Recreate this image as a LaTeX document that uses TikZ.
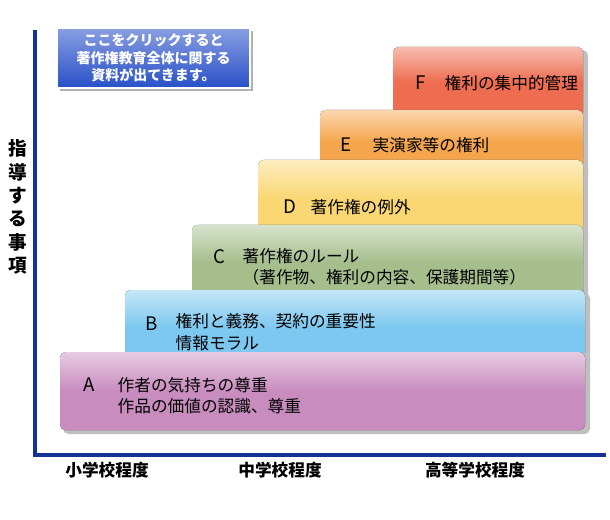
\documentclass[tikz,border=0pt]{standalone}
\usepackage{fontspec}
\setmainfont{Noto Sans CJK JP}
\usetikzlibrary{positioning}

\definecolor{axisblue}{RGB}{20,50,150}
\definecolor{barA}{RGB}{200,140,190}
\definecolor{barB}{RGB}{125,200,240}
\definecolor{barC}{RGB}{165,190,140}
\definecolor{barD}{RGB}{250,215,115}
\definecolor{barE}{RGB}{245,165,75}
\definecolor{barF}{RGB}{238,108,80}
\definecolor{btnblue}{RGB}{40,80,200}

\tikzset{
  bar/.style={rounded corners=4pt, top color=#1!45!white, bottom color=#1,
    middle color=#1, draw=none},
  shadow/.style={rounded corners=4pt, fill=black!25},
  key/.style={font=\fontsize{14}{16}\selectfont, anchor=west},
  txt/.style={font=\fontsize{12.5}{16}\selectfont, anchor=west, align=left},
  level/.style={font=\fontsize{12.5}{15}\selectfont\bfseries}
}

\begin{document}
\begin{tikzpicture}[x=0.75pt,y=-0.75pt]
  \useasboundingbox (0,0) rectangle (610,520);

  % bars, back to front
  \fill[shadow] (396,50) rectangle (588,122);
  \fill[bar=barF] (393,47) rectangle (583,118);
  \node[key] (kF) at (411,83) {F};
  \node[txt] (tF) at (440,83) {権利の集中的管理};

  \fill[shadow] (323,113) rectangle (588,179);
  \fill[bar=barE] (320,110) rectangle (583,175);
  \node[key] (kE) at (336,145) {E};
  \node[txt] (tE) at (368,145) {実演家等の権利};

  \fill[shadow] (261,163) rectangle (588,242);
  \fill[bar=barD] (258,160) rectangle (583,238);
  \node[key] (kD) at (279,207) {D};
  \node[txt] (tD) at (306,207) {著作権の例外};

  \fill[shadow] (195,228) rectangle (588,304);
  \fill[bar=barC] (192,225) rectangle (583,300);
  \node[key] (kC) at (209,257) {C};
  \node[txt] (tC) at (238,267) {著作権のルール\\（著作物、権利の内容、保護期間等）};

  \fill[shadow] (128,293) rectangle (590,369);
  \fill[bar=barB] (125,290) rectangle (585,365);
  \node[key] (kB) at (141,324) {B};
  \node[txt] (tB) at (171,332) {権利と義務、契約の重要性\\情報モラル};

  \fill[shadow] (63,353) rectangle (590,434);
  \fill[bar=barA] (60,352) rectangle (585,430);
  \node[key] (kA) at (79,385) {A};
  \node[txt] (tA) at (113,396) {作者の気持ちの尊重\\作品の価値の認識、尊重};

  % axes
  \coordinate (top) at (35,30);
  \coordinate (origin) at (35,455);
  \coordinate (right) at (606,455);
  \draw[axisblue, line width=3pt] (top) -- (origin) -- (right);

  \node[level, align=center, font=\fontsize{14}{17.5}\selectfont\bfseries] (yl) at (18,207) {指\\導\\す\\る\\事\\項};
  \node[level] (l1) at (107,470) {小学校程度};
  \node[level] (l2) at (280,470) {中学校程度};
  \node[level] (l3) at (475,470) {高等学校程度};

  % link button
  \fill[black!30] (60,31) rectangle (253,91);
  \node[draw=white, line width=0.8pt, top color=btnblue!55!white, bottom color=btnblue,
    minimum width=193*0.75pt, minimum height=60*0.75pt, text=white, align=center,
    font=\fontsize{10.5}{13}\selectfont\bfseries, inner sep=2pt] (btn) at (153.5,58)
    {ここをクリックすると\\著作権教育全体に関する\\資料が出てきます。};
\end{tikzpicture}
\end{document}
